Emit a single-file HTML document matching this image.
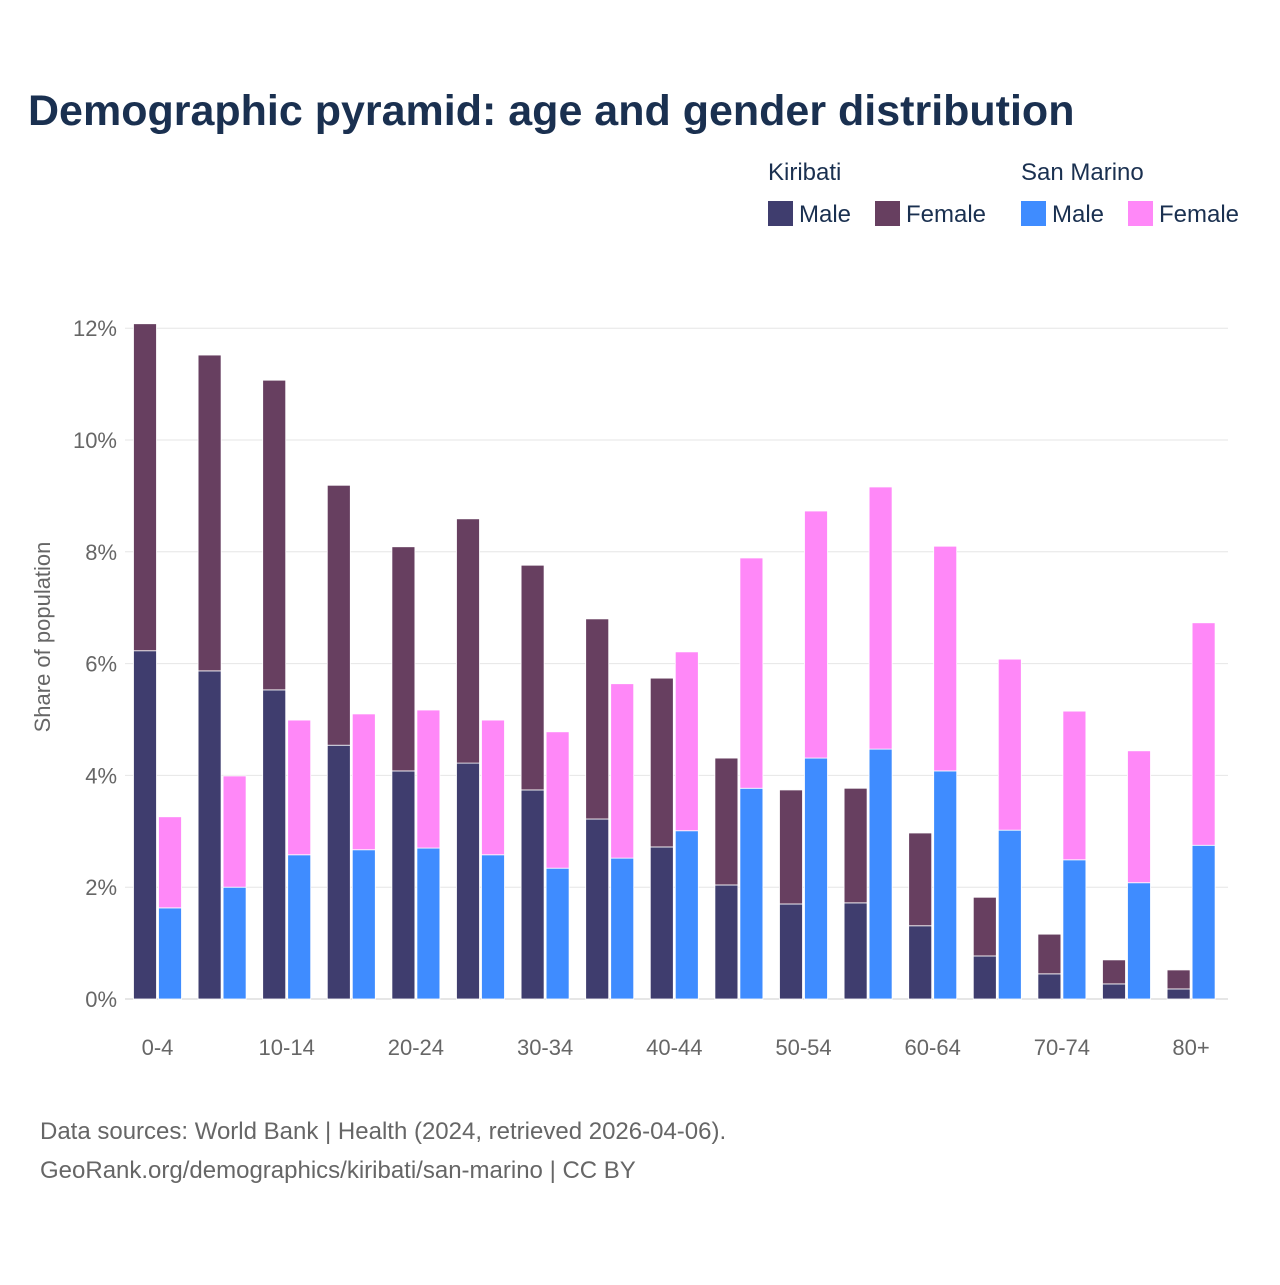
<!DOCTYPE html>
<html><head><meta charset="utf-8">
<style>
body{margin:0;background:#fff;font-family:"Liberation Sans",sans-serif;}
#wrap{position:relative;width:1280px;height:1280px;}
</style></head>
<body>
<div id="wrap">
<svg id="chart" width="1280" height="1280">
<text x="28" y="125" font-size="43" font-weight="bold" fill="#1a3050">Demographic pyramid: age and gender distribution</text>
<g font-size="24" fill="#1a3050">
<text x="768" y="180">Kiribati</text>
<text x="1021" y="180">San Marino</text>
<g><rect x="768" y="201" width="25" height="25" fill="#3f3d6e"/><text x="799" y="222">Male</text></g>
<g><rect x="875" y="201" width="25" height="25" fill="#673f60"/><text x="906" y="222">Female</text></g>
<g><rect x="1021" y="201" width="25" height="25" fill="#3f8cff"/><text x="1052" y="222">Male</text></g>
<g><rect x="1128" y="201" width="25" height="25" fill="#ff88f8"/><text x="1159" y="222">Female</text></g>
</g>
<text transform="translate(50,637) rotate(-90)" text-anchor="middle" font-size="22" fill="#666">Share of population</text>
<g id="grid"></g><g id="bars"></g><g id="xt"></g>
<text x="40" y="1139" font-size="24" fill="#666">Data sources: World Bank | Health (2024, retrieved 2026-04-06).</text>
<text x="40" y="1178" font-size="24" fill="#666">GeoRank.org/demographics/kiribati/san-marino | CC BY</text>
</svg>
</div>
<script>
const categories=["0-4","5-9","10-14","15-19","20-24","25-29","30-34","35-39","40-44","45-49","50-54","55-59","60-64","65-69","70-74","75-79","80+"];
const kiribatiMale=[6.23,5.87,5.53,4.54,4.08,4.22,3.74,3.22,2.72,2.04,1.70,1.72,1.31,0.77,0.45,0.27,0.18];
const kiribatiFemale=[5.85,5.65,5.54,4.65,4.01,4.37,4.02,3.58,3.02,2.27,2.04,2.05,1.66,1.05,0.71,0.43,0.34];
const sanMarinoMale=[1.63,2.00,2.58,2.67,2.70,2.58,2.34,2.52,3.01,3.77,4.31,4.47,4.08,3.02,2.49,2.08,2.75];
const sanMarinoFemale=[1.63,1.99,2.41,2.43,2.47,2.41,2.44,3.12,3.20,4.12,4.42,4.69,4.02,3.06,2.66,2.36,3.98];
const yTicks=[0,2,4,6,8,10,12];
const xLabelIdx=[0,2,4,6,8,10,12,14,16];

const NS="http://www.w3.org/2000/svg";
const y0=999,pxPer=55.9,plotL=125,plotR=1228,step=64.6,first=157.5;
const yS=v=>y0-v*pxPer;
const xC=i=>first+i*step;
function mk(t,a,p){const e=document.createElementNS(NS,t);for(const k in a)e.setAttribute(k,a[k]);p.appendChild(e);return e;}
const grid=document.getElementById('grid'),bars=document.getElementById('bars'),xt=document.getElementById('xt');
yTicks.forEach(v=>{
 const l=mk('line',{x1:plotL,x2:plotR,y1:yS(v),y2:yS(v),stroke:v===0?'#ccc':'#e6e6e6','stroke-width':1},grid);
 
 
 const t=mk('text',{x:117,y:yS(v)+8,'text-anchor':'end','font-size':22,fill:'#666'},grid);
 t.textContent=v+'%';
 
 
});
function bar(x,v0,v1,c,name){
 const r=mk('rect',{x:x,y:yS(v1),width:23,height:yS(v0)-yS(v1),fill:c,stroke:'#fff','stroke-width':0.8},bars);
 
 
}
categories.forEach((c,i)=>{
 const cx=xC(i);
 bar(cx-24,0,kiribatiMale[i],'#3f3d6e','bar-kiribati-male-'+c);
 bar(cx-24,kiribatiMale[i],kiribatiMale[i]+kiribatiFemale[i],'#673f60','bar-kiribati-female-'+c);
 bar(cx+1,0,sanMarinoMale[i],'#3f8cff','bar-san-marino-male-'+c);
 bar(cx+1,sanMarinoMale[i],sanMarinoMale[i]+sanMarinoFemale[i],'#ff88f8','bar-san-marino-female-'+c);
});
xLabelIdx.forEach(i=>{
 const t=mk('text',{x:xC(i),y:1055,'text-anchor':'middle','font-size':22,fill:'#666'},xt);
 t.textContent=categories[i];
 
 
});
</script>
</body></html>
